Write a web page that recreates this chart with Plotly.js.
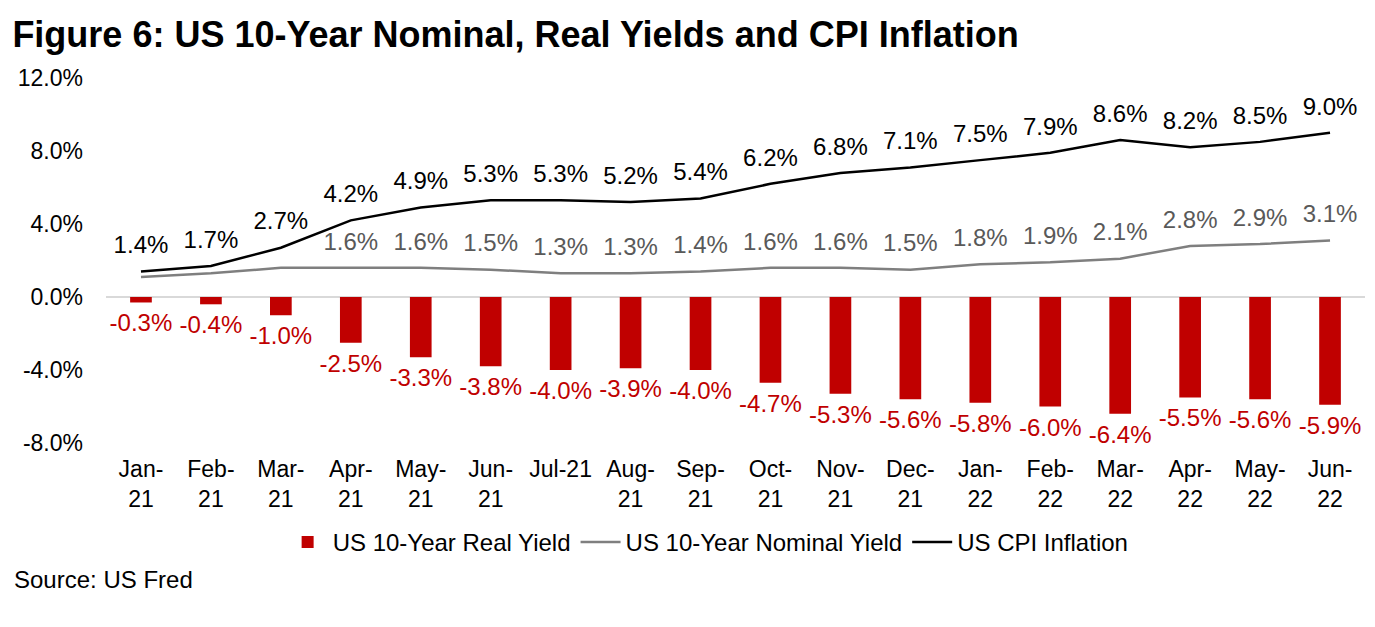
<!DOCTYPE html>
<html>
<head>
<meta charset="utf-8">
<script src="https://cdn.plot.ly/plotly-3.0.1.min.js"></script>
<style>html,body{margin:0;padding:0;background:#fff;}#chart{width:1375px;height:627px;}</style>
</head>
<body>
<div id="chart"></div>
<script>
const categories = ["Jan-<br>21","Feb-<br>21","Mar-<br>21","Apr-<br>21","May-<br>21","Jun-<br>21","Jul-21","Aug-<br>21","Sep-<br>21","Oct-<br>21","Nov-<br>21","Dec-<br>21","Jan-<br>22","Feb-<br>22","Mar-<br>22","Apr-<br>22","May-<br>22","Jun-<br>22"];
const realYield = [-0.3,-0.4,-1.0,-2.5,-3.3,-3.8,-4.0,-3.9,-4.0,-4.7,-5.3,-5.6,-5.8,-6.0,-6.4,-5.5,-5.6,-5.9];
const nominalYield = [1.1,1.3,1.6,1.6,1.6,1.5,1.3,1.3,1.4,1.6,1.6,1.5,1.8,1.9,2.1,2.8,2.9,3.1];
const cpiInflation = [1.4,1.7,2.7,4.2,4.9,5.3,5.3,5.2,5.4,6.2,6.8,7.1,7.5,7.9,8.6,8.2,8.5,9.0];
const nominalLabelShown = [false,false,false,true,true,true,true,true,true,true,true,true,true,true,true,true,true,true];
const yTicks = [-8,-4,0,4,8,12];

const fmt = v => v.toFixed(1) + '%';
const FONT = 'Liberation Sans, Arial, sans-serif';
const LBL = 24;

function labelTrace(yvals, texts, pos, color, offsetSize) {
  return {
    type: 'scatter', mode: 'markers+text', x: categories, y: yvals, text: texts,
    textposition: pos, cliponaxis: false, showlegend: false, hoverinfo: 'skip',
    marker: {size: offsetSize, color: 'rgba(0,0,0,0)'},
    textfont: {color: color, size: LBL, family: FONT}
  };
}

const traces = [
  {
    type: 'bar', name: 'US 10-Year Real Yield', x: categories, y: realYield,
    marker: {color: '#C00000'}, width: 0.31, hoverinfo: 'skip'
  },
  {
    type: 'scatter', mode: 'lines', name: 'US 10-Year Nominal Yield', x: categories, y: nominalYield,
    line: {color: '#7F7F7F', width: 2.5}, hoverinfo: 'skip'
  },
  {
    type: 'scatter', mode: 'lines', name: 'US CPI Inflation', x: categories, y: cpiInflation,
    line: {color: '#000000', width: 2.5}, hoverinfo: 'skip'
  },
  labelTrace(realYield, realYield.map(fmt), 'bottom center', '#C00000', 16),
  labelTrace(nominalYield, nominalYield.map((v,i) => nominalLabelShown[i] ? fmt(v) : ''), 'top center', '#595959', 18),
  labelTrace(cpiInflation, cpiInflation.map(fmt), 'top center', '#000000', 18)
];

const layout = {
  width: 1375, height: 627,
  margin: {l: 106, r: 10, t: 78, b: 184},
  paper_bgcolor: '#fff', plot_bgcolor: '#fff',
  font: {family: FONT, size: 20, color: '#000'},
  title: {text: '<b>Figure 6: US 10-Year Nominal, Real Yields and CPI Inflation</b>',
          x: 0.009, xanchor: 'left', xref: 'container', y: 0.945, yanchor: 'middle', yref: 'container',
          font: {size: 36, family: FONT, color: '#000'}},
  xaxis: {type: 'category', range: [-0.5, categories.length - 0.5], showgrid: false, showline: false, ticks: '',
          zeroline: false, automargin: false,
          tickfont: {size: 23, color: '#000'}, ticklabelstandoff: 10, fixedrange: true},
  yaxis: {range: [-8, 12], tickvals: yTicks, ticktext: yTicks.map(fmt), showgrid: false, automargin: false,
          showline: false, ticks: '', zeroline: true, zerolinecolor: '#D9D9D9', zerolinewidth: 1.5,
          tickfont: {size: 23, color: '#000'}, ticklabelstandoff: 22, fixedrange: true},
  showlegend: true,
  legend: {orientation: 'h', x: 0.515, xanchor: 'center', xref: 'container', y: 0.135, yanchor: 'middle', yref: 'container',
           font: {size: 24, color: '#000'}, itemwidth: 40, tracegroupgap: 0, traceorder: 'normal'},
  annotations: [
    {text: 'Source: US Fred', xref: 'paper', yref: 'paper', x: -0.0747, y: -0.375,
     xanchor: 'left', yanchor: 'middle', showarrow: false, font: {size: 24, color: '#000'}}
  ]
};

Plotly.newPlot('chart', traces, layout, {displayModeBar: false, staticPlot: true});
</script>
</body>
</html>
